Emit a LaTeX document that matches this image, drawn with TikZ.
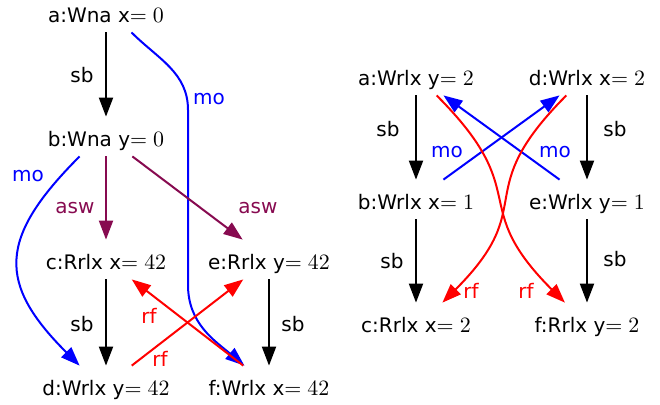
\documentclass[tikz,border=0pt]{standalone}
\usepackage{fontspec}
\setmainfont{DejaVu Sans}
\DeclareMathSizes{10}{11}{7.7}{5.5}
\usetikzlibrary{arrows.meta}
\definecolor{aswcol}{RGB}{135,10,80}
\begin{document}
\begin{tikzpicture}[x=0.5pt,y=0.5pt,
  font=\fontsize{10}{12}\selectfont,
  ev/.style={anchor=base, text height=11.5pt, text depth=2pt, inner ysep=3pt, inner xsep=2pt},
  lbl/.style={inner sep=0pt},
  arr/.style={line width=1pt, -{Triangle[length=9.5pt,width=7pt]}},
  asw/.style={color=aswcol},
]
\useasboundingbox[fill=white] (0,0) rectangle (660,-404);
% left graph
\node[ev] (a) at (106,-22) {a:Wna x$=0$};
\node[ev] (b) at (106,-146) {b:Wna y$=0$};
\node[ev] (c) at (106,-269) {c:Rrlx x$=42$};
\node[ev] (e) at (269,-269) {e:Rrlx y$=42$};
\node[ev] (d) at (106,-395) {d:Wrlx y$=42$};
\node[ev] (f) at (269,-395) {f:Wrlx x$=42$};
\coordinate (m1) at (188,-110);
\coordinate (m2) at (188,-285);

\draw[arr] (a) -- (b);
\draw[arr,blue] (a.-38) to[out=-45,in=90] (m1) -- (m2) to[out=-90,in=140] (f.141);
\draw[arr,asw] (b) -- (c);
\draw[arr,asw] (b) -- (e);
\draw[arr,blue] (b.217) .. controls +(225:58pt) and +(135:58pt) .. (d.143);
\draw[arr] (c) -- (d);
\draw[arr] (e) -- (f);
\draw[arr,red] (f) -- (c);
\draw[arr,red] (d) -- (e);

\node[lbl] (l1) at (82,-75) {sb};
\node[lbl,blue] (l2) at (209,-99) {mo};
\node[lbl,blue] (l3) at (28,-176) {mo};
\node[lbl,asw] (l4) at (75,-208) {asw};
\node[lbl,asw] (l5) at (258,-208) {asw};
\node[lbl] (l6) at (82,-324) {sb};
\node[lbl] (l7) at (293,-324) {sb};
\node[lbl,red] (l8) at (149,-316) {rf};
\node[lbl,red] (l9) at (160,-359) {rf};

% right graph
\node[ev] (a2) at (416,-85) {a:Wrlx y$=2$};
\node[ev] (d2) at (587,-85) {d:Wrlx x$=2$};
\node[ev] (b2) at (416,-209) {b:Wrlx x$=1$};
\node[ev] (e2) at (587,-209) {e:Wrlx y$=1$};
\node[ev] (c2) at (416,-332) {c:Rrlx x$=2$};
\node[ev] (f2) at (587,-332) {f:Rrlx y$=2$};

\draw[arr] (a2) -- (b2);
\draw[arr] (d2) -- (e2);
\draw[arr] (b2) -- (c2);
\draw[arr] (e2) -- (f2);
\draw[arr,blue] (b2) -- (d2);
\draw[arr,blue] (e2) -- (a2);
\draw[arr,red] (a2.-44) .. controls +(-45:70pt) and +(135:70pt) .. (f2.138);
\draw[arr,red] (d2.-136) .. controls +(-135:70pt) and +(45:70pt) .. (c2.37);

\node[lbl] (r1) at (388,-129) {sb};
\node[lbl] (r2) at (615,-129) {sb};
\node[lbl] (r3) at (392,-261) {sb};
\node[lbl] (r4) at (615,-259) {sb};
\node[lbl,blue] (r5) at (447,-152) {mo};
\node[lbl,blue] (r6) at (555,-152) {mo};
\node[lbl,red] (r7) at (471,-291) {rf};
\node[lbl,red] (r8) at (526,-291) {rf};
\end{tikzpicture}
\end{document}
